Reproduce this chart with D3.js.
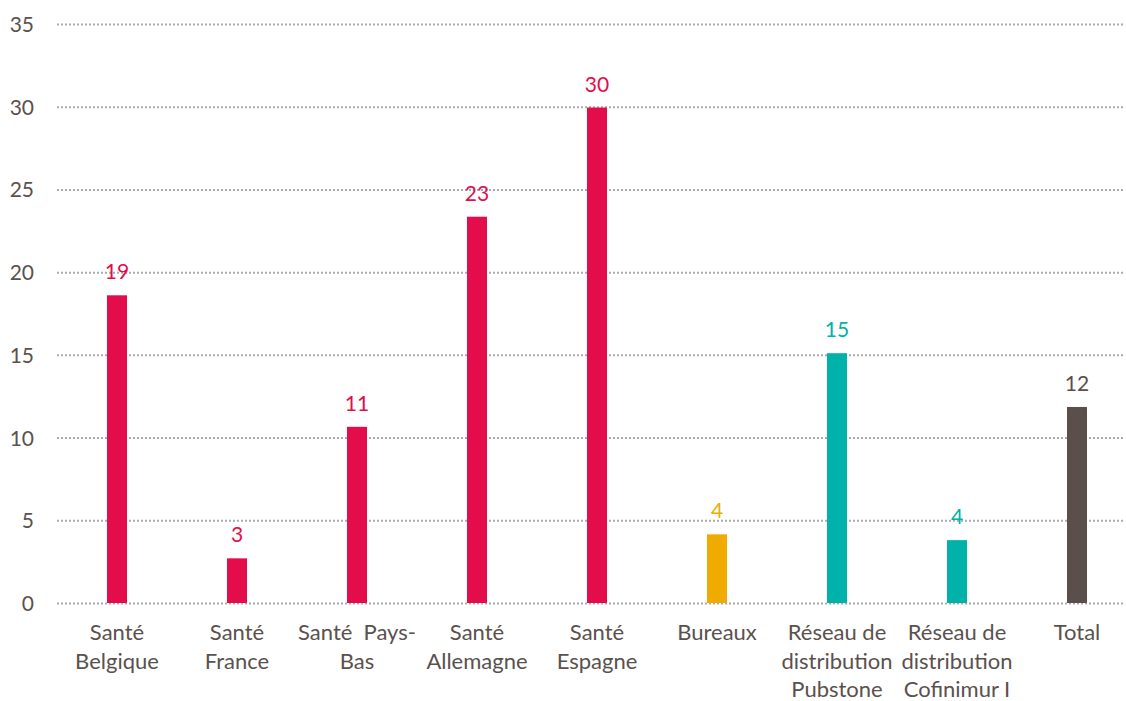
<!DOCTYPE html>
<html>
<head>
<meta charset="utf-8">
<script src="https://cdn.jsdelivr.net/npm/d3@7"></script>
<style>
  body { margin: 0; background: #fff; }
  .chart text { font-family: Lato, "Open Sans", sans-serif; fill: #5a514e; }
  .grid line { stroke: #aaaaaa; stroke-width: 2; stroke-dasharray: 2,2; }
</style>
</head>
<body>
<div class="chart"></div>
<script>
// chart data
var categories = ["Santé Belgique", "Santé France", "Santé Pays-Bas", "Santé Allemagne",
  "Santé Espagne", "Bureaux", "Réseau de distribution Pubstone",
  "Réseau de distribution Cofinimur I", "Total"];
var categoryLines = [
  ["Santé", "Belgique"], ["Santé", "France"], ["Santé  Pays-", "Bas"], ["Santé", "Allemagne"],
  ["Santé", "Espagne"], ["Bureaux"], ["Réseau de", "distribution", "Pubstone"],
  ["Réseau de", "distribution", "Cofinimur I"], ["Total"]];
var values = [18.6, 2.7, 10.65, 23.35, 29.95, 4.15, 15.1, 3.8, 11.85];
var valueLabels = ["19", "3", "11", "23", "30", "4", "15", "4", "12"];
var segments = ["Santé", "Santé", "Santé", "Santé", "Santé", "Bureaux", "Réseau", "Réseau", "Total"];
var segmentNames = ["Santé", "Bureaux", "Réseau", "Total"];
var yTicks = [0, 5, 10, 15, 20, 25, 30, 35];

var svgWidth = 1126, svgHeight = 701;

var svg = d3.select(".chart")
  .append("svg")
  .attr("width", svgWidth)
  .attr("height", svgHeight);

var color = d3.scaleOrdinal()
  .domain(segmentNames)
  .range(["#e30d4b", "#efab00", "#00b2a9", "#5b4f4b"]);

var xScale = d3.scaleBand()
  .domain(categories)
  .range([57, 1137])
  .padding(0);

var yScale = d3.scaleLinear()
  .domain([0, 35])
  .range([603, 24]);

var barWidth = 20;

// gridlines + y tick labels
var yAxis = d3.axisLeft(yScale)
  .tickValues(yTicks)
  .tickSize(-(1123 - 57))
  .tickPadding(23);

svg.append("g")
  .attr("class", "grid")
  .attr("transform", "translate(57,0)")
  .call(yAxis)
  .call(g => g.select(".domain").remove())
  .selectAll("text")
  .style("font-size", "21px")
  .attr("dy", "0.36em");

// bars
svg.append("g")
  .selectAll("rect")
  .data(values)
  .enter()
  .append("rect")
  .attr("x", (d, i) => xScale(categories[i]) + xScale.bandwidth() / 2 - barWidth / 2)
  .attr("y", d => yScale(d))
  .attr("width", barWidth)
  .attr("height", d => yScale(0) - yScale(d))
  .attr("fill", (d, i) => color(segments[i]));

// value labels
svg.append("g")
  .selectAll("text")
  .data(values)
  .enter()
  .append("text")
  .attr("x", (d, i) => xScale(categories[i]) + xScale.bandwidth() / 2)
  .attr("y", d => yScale(d) - 16)
  .attr("text-anchor", "middle")
  .style("font-size", "21px")
  .style("fill", (d, i) => color(segments[i]))
  .text((d, i) => valueLabels[i]);

// category labels
var xAxis = d3.axisBottom(xScale).tickSize(0).tickFormat("");
var xg = svg.append("g")
  .attr("transform", "translate(0,603)")
  .call(xAxis);
xg.select(".domain").remove();

xg.selectAll(".tick").each(function(d, i) {
  var t = d3.select(this).append("text")
    .attr("text-anchor", "middle")
    .attr("y", 37)
    .style("font-size", "22px")
    .style("white-space", "pre");
  categoryLines[i].forEach(function(line, j) {
    t.append("tspan")
      .attr("x", 0)
      .attr("dy", j === 0 ? 0 : 28.5)
      .text(line);
  });
});
</script>
</body>
</html>
